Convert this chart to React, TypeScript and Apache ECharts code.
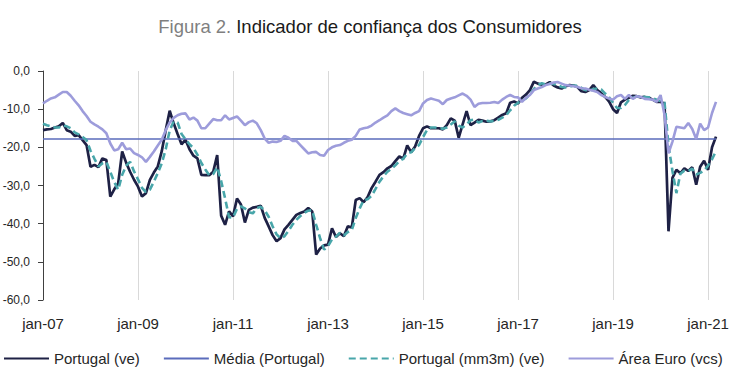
import React, { useEffect, useRef } from "react";
import * as echarts from "echarts";

const MONTHS = ["jan", "fev", "mar", "abr", "mai", "jun", "jul", "ago", "set", "out", "nov", "dez"];

// Portugal (ve), monthly from jan-07 to mar-21
const portugal: number[] = [
  -15.5, -15.3, -15.2, -14.8, -14.5, -13.6, -15.5, -15.9, -17.0, -16.8, -18.1, -19.4,
  -25.1, -24.6, -25.2, -22.9, -23.3, -32.9, -31.0, -29.4, -21.1, -24.0, -26.4, -28.5,
  -30.3, -32.9, -32.0, -28.5, -26.6, -25.0, -21.0, -15.5, -10.4, -13.7, -16.5, -19.2,
  -18.0, -20.5, -22.2, -22.9, -27.2, -27.3, -27.3, -26.4, -22.0, -37.9, -40.3, -36.8,
  -38.1, -33.4, -35.0, -39.7, -36.4, -35.8, -35.6, -35.3, -38.5, -40.7, -43.0, -44.6,
  -43.8, -41.5, -40.3, -39.0, -37.7, -37.2, -36.8, -35.9, -36.8, -48.1, -46.5, -45.7,
  -45.5, -41.2, -43.5, -42.5, -43.3, -40.7, -41.0, -33.8, -33.3, -34.4, -33.0, -30.7,
  -29.0, -27.2, -26.5, -25.5, -24.9, -23.6, -22.4, -23.0, -19.5, -21.3, -19.8, -17.0,
  -15.0, -14.5, -15.0, -15.0, -15.0, -15.3, -14.2, -12.4, -13.0, -17.5, -14.0, -10.5,
  -14.2, -13.5, -12.8, -13.0, -13.3, -13.2, -12.9, -12.2, -11.5, -11.1, -8.3, -8.0,
  -8.5, -7.0, -6.2, -5.0, -2.8, -3.3, -3.6, -3.5, -2.9, -3.8, -4.3, -4.6,
  -4.0, -3.7, -3.8, -4.2, -5.3, -5.5, -5.0, -3.7, -5.0, -5.8, -6.8, -8.0,
  -10.0, -11.0, -8.2, -7.5, -7.0, -6.5, -6.6, -6.9, -6.8, -7.0, -7.5, -8.1,
  -8.1, -8.5, -42.0, -28.0, -25.9, -26.8, -25.5, -26.2, -25.2, -29.8, -25.1, -23.5,
  -25.9, -20.0, -17.2,
];

// Portugal (mm3m) (ve)
const portugalMm3m: number[] = [
  -13.8, -14.2, -14.5, -14.8, -14.8, -14.3, -14.5, -15.0, -16.1, -16.6, -17.3, -18.1,
  -20.9, -23.0, -25.0, -24.2, -23.8, -26.4, -29.1, -31.1, -27.2, -24.8, -23.8, -26.3,
  -28.4, -30.6, -31.7, -31.1, -29.0, -26.7, -24.2, -20.5, -15.6, -13.2, -13.5, -16.5,
  -17.9, -19.2, -20.2, -21.9, -24.1, -25.8, -27.3, -27.0, -25.2, -28.8, -33.4, -38.3,
  -38.4, -36.1, -35.5, -36.0, -37.0, -37.3, -35.9, -35.6, -36.5, -38.2, -40.7, -42.8,
  -43.8, -43.3, -41.9, -40.3, -39.0, -38.0, -37.2, -36.6, -36.5, -40.3, -43.8, -46.8,
  -45.9, -44.1, -43.4, -42.4, -43.1, -42.2, -41.7, -38.5, -36.0, -33.8, -33.6, -32.7,
  -30.9, -29.0, -27.6, -26.4, -25.6, -24.7, -23.6, -23.0, -21.6, -21.3, -20.2, -19.4,
  -17.3, -15.5, -14.8, -14.8, -15.0, -15.1, -14.8, -14.0, -13.2, -14.3, -14.8, -14.0,
  -12.9, -12.7, -13.5, -13.1, -13.0, -13.2, -13.1, -12.8, -12.2, -11.6, -10.3, -9.1,
  -8.3, -7.8, -7.2, -6.1, -4.7, -3.7, -3.2, -3.5, -3.3, -3.4, -3.7, -4.2,
  -4.3, -4.1, -3.8, -3.9, -4.4, -5.0, -5.3, -4.7, -4.6, -4.8, -5.9, -6.9,
  -8.3, -9.7, -9.7, -8.9, -7.6, -7.0, -6.7, -6.7, -6.8, -6.9, -7.1, -7.5,
  -7.9, -8.2, -19.5, -26.2, -32.0, -26.9, -26.1, -26.2, -25.6, -27.1, -26.7, -26.1,
  -24.8, -23.1, -21.0,
];

// Área Euro (vcs)
const areaEuro: number[] = [
  -8.5, -7.8, -7.2, -6.9, -6.2, -5.5, -5.5, -6.5, -7.8, -9.0, -10.5, -11.8,
  -13.3, -14.0, -14.6, -15.3, -16.3, -19.0, -20.8, -20.5, -18.8, -20.5, -20.3, -21.5,
  -22.0, -22.6, -23.8, -22.5, -21.1, -19.5, -18.0, -15.5, -13.5, -12.3, -11.6, -11.2,
  -11.1, -12.7, -12.2, -13.0, -15.0, -15.0, -13.8, -12.6, -12.9, -12.9, -11.6, -12.7,
  -12.3, -11.9, -13.0, -14.2, -13.4, -13.0, -13.7, -15.5, -17.7, -18.8, -18.5, -18.6,
  -18.3, -17.0, -17.5, -18.3, -18.3, -19.4, -20.5, -21.6, -21.3, -21.2, -22.0, -22.2,
  -20.7, -20.0, -19.6, -19.4, -18.8, -18.3, -18.0, -17.0, -15.3, -15.0, -14.8, -14.3,
  -13.5, -12.9, -12.2, -11.6, -10.5, -9.8, -10.5, -11.0, -11.3, -11.6, -11.0, -10.5,
  -8.5, -7.6, -7.2, -7.5, -7.8, -8.7, -7.6, -7.2, -6.9, -6.4, -5.9, -6.5,
  -7.5, -9.4, -8.6, -8.4, -8.4, -8.3, -8.1, -8.4, -7.5, -6.8, -6.3, -6.8,
  -6.9, -8.1, -7.0, -6.3, -5.0, -4.6, -4.2, -3.7, -3.4, -3.0, -2.9, -3.3,
  -3.7, -3.8, -4.0, -4.2, -4.5, -4.6, -4.9, -5.2, -5.5, -6.3, -6.8, -7.2,
  -7.5, -6.6, -6.3, -7.3, -6.3, -7.3, -6.6, -6.8, -7.3, -7.4, -7.5, -8.1,
  -6.3, -11.5, -21.6, -18.5, -14.6, -14.8, -15.0, -13.6, -15.2, -17.8, -13.8, -15.5,
  -14.8, -11.0, -8.1,
];

// Média (Portugal)
const mediaPortugal = -17.8;

const categories: string[] = portugal.map((_, i) => {
  const yy = 7 + Math.floor(i / 12);
  return `${MONTHS[i % 12]}-${String(yy).padStart(2, "0")}`;
});

const yTicks = { min: -60, max: 0, interval: 10 };

const FONT = "'Liberation Sans', Arial, sans-serif";

export default function App() {
  const ref = useRef<HTMLDivElement>(null);

  useEffect(() => {
    if (!ref.current) return;
    const chart = echarts.init(ref.current, undefined, { renderer: "svg" });
    chart.setOption({
      animation: false,
      textStyle: { fontFamily: FONT },
      title: {
        left: "center",
        top: 12,
        text: "{g|Figura 2.} {b|Indicador de confiança dos Consumidores}",
        textStyle: {
          fontWeight: "normal",
          rich: {
            g: { fontSize: 18.5, color: "#7f7f7f", fontFamily: FONT, fontWeight: "normal" },
            b: { fontSize: 18.5, color: "#1a1a1a", fontFamily: FONT, fontWeight: "normal" },
          },
        },
      },
      legend: {
        left: 3,
        top: 351,
        padding: 0,
        itemWidth: 45,
        itemHeight: 14,
        itemGap: 23,
        itemStyle: { opacity: 0 },
        textStyle: { fontSize: 15, color: "#262626", fontFamily: FONT },
        data: ["Portugal (ve)", "Média (Portugal)", "Portugal (mm3m) (ve)", "Área Euro (vcs)"],
      },
      grid: { left: 43, right: 24, top: 71, bottom: 89, outerBoundsMode: "none", containLabel: false },
      xAxis: {
        type: "category",
        data: categories,
        boundaryGap: false,
        axisLine: { show: false },
        axisTick: { show: false },
        axisLabel: {
          interval: (i: number) => i % 24 === 0,
          margin: 16,
          fontSize: 15,
          color: "#262626",
          fontFamily: FONT,
        },
        splitLine: {
          show: true,
          interval: (i: number) => i % 24 === 0,
          lineStyle: { color: "#d9d9d9", width: 1 },
        },
      },
      yAxis: {
        type: "value",
        min: yTicks.min,
        max: yTicks.max,
        interval: yTicks.interval,
        axisLine: { show: true, lineStyle: { color: "#404040", width: 1 } },
        axisTick: { show: true, inside: false, length: 5, lineStyle: { color: "#404040" } },
        axisLabel: {
          margin: 13,
          fontSize: 12,
          color: "#262626",
          fontFamily: FONT,
          formatter: (v: number) => v.toFixed(1).replace(".", ","),
        },
        splitLine: { show: false },
      },
      series: [
        {
          name: "Portugal (ve)",
          type: "line",
          data: portugal,
          symbol: "none",
          lineStyle: { color: "#1e2145", width: 2.7 },
          itemStyle: { color: "#1e2145" },
        },
        {
          name: "Média (Portugal)",
          type: "line",
          data: categories.map(() => mediaPortugal),
          symbol: "none",
          lineStyle: { color: "#5b6cbc", width: 1.6 },
          itemStyle: { color: "#5b6cbc" },
        },
        {
          name: "Portugal (mm3m) (ve)",
          type: "line",
          data: portugalMm3m,
          symbol: "none",
          lineStyle: { color: "#48a6aa", width: 2.6, type: [7, 4] },
          itemStyle: { color: "#48a6aa" },
        },
        {
          name: "Área Euro (vcs)",
          type: "line",
          data: areaEuro,
          symbol: "none",
          lineStyle: { color: "#9d9cdb", width: 2.6 },
          itemStyle: { color: "#9d9cdb" },
        },
      ],
    });
    return () => chart.dispose();
  }, []);

  return (
    <div
      ref={ref}
      style={{ position: "absolute", left: 0, top: 0, width: 740, height: 389 }}
    />
  );
}
